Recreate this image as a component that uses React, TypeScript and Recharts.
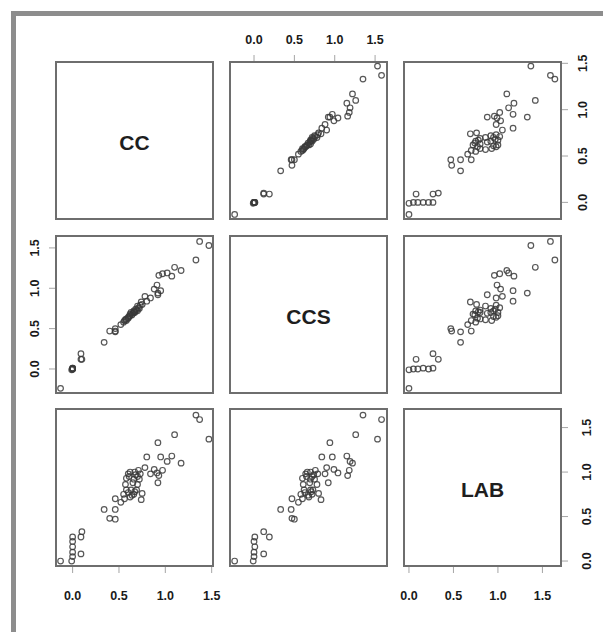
import React from 'react';
import { ScatterChart, Scatter, XAxis, YAxis } from 'recharts';

// variable names on the diagonal
const varNames = ['CC', 'CCS', 'LAB'];

// one value per observation, same order in each array
const cc = [
  -0.13, -0.01, 0.0, 0.0, 0.0, 0.0, 0.0, 0.09, 0.09, 0.1,
  0.34, 0.4, 0.46, 0.46, 0.46,
  0.52, 0.55, 0.56, 0.58, 0.6, 0.63, 0.64, 0.67, 0.74, 0.58, 0.6, 0.62, 0.65, 0.66, 0.68, 0.7, 0.71, 0.72, 0.7,
  0.62, 0.66, 0.69, 0.61, 0.67, 0.73, 0.57, 0.75, 0.84, 0.88,
  0.8, 0.78, 0.92, 0.91, 0.93, 0.97, 0.95, 1.02, 1.07, 1.17, 0.92, 1.1, 1.33, 1.37, 1.47,
];
const ccs = [
  -0.24, -0.01, 0.0, 0.0, 0.01, 0.0, 0.01, 0.12, 0.19, 0.12,
  0.33, 0.47, 0.5, 0.46, 0.47,
  0.55, 0.58, 0.6, 0.62, 0.63, 0.7, 0.67, 0.71, 0.83, 0.6, 0.64, 0.66, 0.69, 0.7, 0.74, 0.72, 0.76, 0.75, 0.78,
  0.68, 0.72, 0.73, 0.65, 0.7, 0.79, 0.61, 0.8, 0.88, 0.99,
  0.84, 0.9, 0.92, 1.04, 1.16, 1.18, 0.97, 1.19, 1.15, 1.22, 0.94, 1.26, 1.35, 1.58, 1.53,
];
const lab = [
  0.0, 0.0, 0.05, 0.1, 0.16, 0.22, 0.27, 0.08, 0.27, 0.33,
  0.58, 0.48, 0.47, 0.58, 0.7,
  0.66, 0.75, 0.7, 0.8, 0.77, 0.8, 0.74, 0.78, 0.69, 0.93, 0.98, 1.0, 0.88, 0.92, 0.97, 0.95, 1.02, 0.92, 0.86,
  0.72, 0.75, 0.8, 0.95, 1.0, 0.98, 0.86, 0.76, 0.98, 1.03,
  1.17, 1.05, 0.88, 0.99, 0.96, 1.02, 1.17, 1.12, 1.18, 1.1, 1.33, 1.42, 1.64, 1.59, 1.37,
];

const tickValues = [0, 0.5, 1, 1.5];

const values = [cc, ccs, lab];
const domains: [number, number][] = [
  [-0.19, 1.525],
  [-0.31, 1.66],
  [-0.067, 1.72],
];

const colLeft = [55, 229, 403];
const rowTop = [61, 235, 408];
const BOX = 159;
const AX = 40;
const PAD = 16;
const FONT = '"Liberation Sans", Arial, sans-serif';

const makeTick = (side: string, dist: number, plotLeft: number, plotTop: number) => (props: any) => {
  const { x, y, payload } = props;
  const label = Number(payload.value).toFixed(1);
  let tx = x;
  let ty = y;
  let rot = 0;
  if (side === 'top') ty = plotTop - dist;
  if (side === 'bottom') ty = plotTop + BOX + dist;
  if (side === 'left') { tx = plotLeft - dist; rot = -90; }
  if (side === 'right') { tx = plotLeft + BOX + dist; rot = -90; }
  return (
    <text
      x={tx}
      y={ty}
      transform={rot ? `rotate(${rot} ${tx} ${ty})` : undefined}
      textAnchor="middle"
      dominantBaseline="central"
      fontFamily={FONT}
      fontWeight="bold"
      fontSize={12.5}
      fill="#1a1a1a"
    >
      {label}
    </text>
  );
};

const ring = (props: any) => (
  <circle cx={props.cx} cy={props.cy} r={2.8} fill="none" stroke="#3a3a3a" strokeWidth={1.2} strokeOpacity={0.85} />
);

interface PanelProps {
  row: number;
  col: number;
  xSide?: 'top' | 'bottom';
  ySide?: 'left' | 'right';
  xDist?: number;
  yDist?: number;
}

const Panel: React.FC<PanelProps> = ({ row, col, xSide, ySide, xDist = 21, yDist = 21 }) => {
  const padL = (ySide === 'left' ? AX : 0) + PAD;
  const padR = (ySide === 'right' ? AX : 0) + PAD;
  const padT = (xSide === 'top' ? AX : 0) + PAD;
  const padB = (xSide === 'bottom' ? AX : 0) + PAD;
  const diag = row === col;
  const data = values[col].map((v, i) => ({ x: v, y: values[row][i] }));

  return (
    <div style={{ position: 'absolute', left: colLeft[col] - padL, top: rowTop[row] - padT }}>
      <ScatterChart
        width={BOX + padL + padR}
        height={BOX + padT + padB}
        margin={{ top: PAD, right: PAD, bottom: PAD, left: PAD }}
      >
        <XAxis
          type="number"
          dataKey="x"
          domain={domains[col]}
          allowDataOverflow
          ticks={tickValues}
          hide={!xSide}
          orientation={xSide || 'bottom'}
          height={AX}
          axisLine={false}
          tickLine={{ stroke: '#a5a5a5' }}
          tickSize={6}
          tick={makeTick(xSide || 'bottom', xDist, padL, padT)}
          interval={0}
        />
        <YAxis
          type="number"
          dataKey="y"
          domain={domains[row]}
          allowDataOverflow
          ticks={tickValues}
          hide={!ySide}
          orientation={ySide || 'left'}
          width={AX}
          axisLine={false}
          tickLine={{ stroke: '#a5a5a5' }}
          tickSize={6}
          tick={makeTick(ySide || 'left', yDist, padL, padT)}
          interval={0}
        />
        <Scatter data={data} shape={diag ? () => null : ring} isAnimationActive={false} />
      </ScatterChart>
      <div
        style={{
          position: 'absolute',
          left: padL,
          top: padT,
          width: BOX,
          height: BOX,
          boxSizing: 'border-box',
          border: '2px solid #6e6e6e',
          pointerEvents: 'none',
        }}
      />
      {diag && (
        <div
          style={{
            position: 'absolute',
            left: padL,
            top: padT + 2,
            width: BOX,
            height: BOX,
            display: 'flex',
            alignItems: 'center',
            justifyContent: 'center',
            fontFamily: FONT,
            fontWeight: 'bold',
            fontSize: 21,
            color: '#1e1e1e',
          }}
        >
          {varNames[row]}
        </div>
      )}
    </div>
  );
};

export default function App() {
  return (
    <div style={{ position: 'absolute', left: 0, top: 0, width: 603, height: 632, background: '#fff', overflow: 'hidden' }}>
      <div
        style={{
          position: 'absolute',
          left: 11,
          top: 11,
          width: 620,
          height: 640,
          borderTop: '5px solid #8d8d8d',
          borderLeft: '5px solid #8d8d8d',
        }}
      />
      <Panel row={0} col={0} />
      <Panel row={0} col={1} xSide="top" />
      <Panel row={0} col={2} ySide="right" />
      <Panel row={1} col={0} ySide="left" yDist={20} />
      <Panel row={1} col={1} />
      <Panel row={1} col={2} />
      <Panel row={2} col={0} xSide="bottom" xDist={29} />
      <Panel row={2} col={1} />
      <Panel row={2} col={2} xSide="bottom" ySide="right" xDist={29} yDist={25} />
    </div>
  );
}
